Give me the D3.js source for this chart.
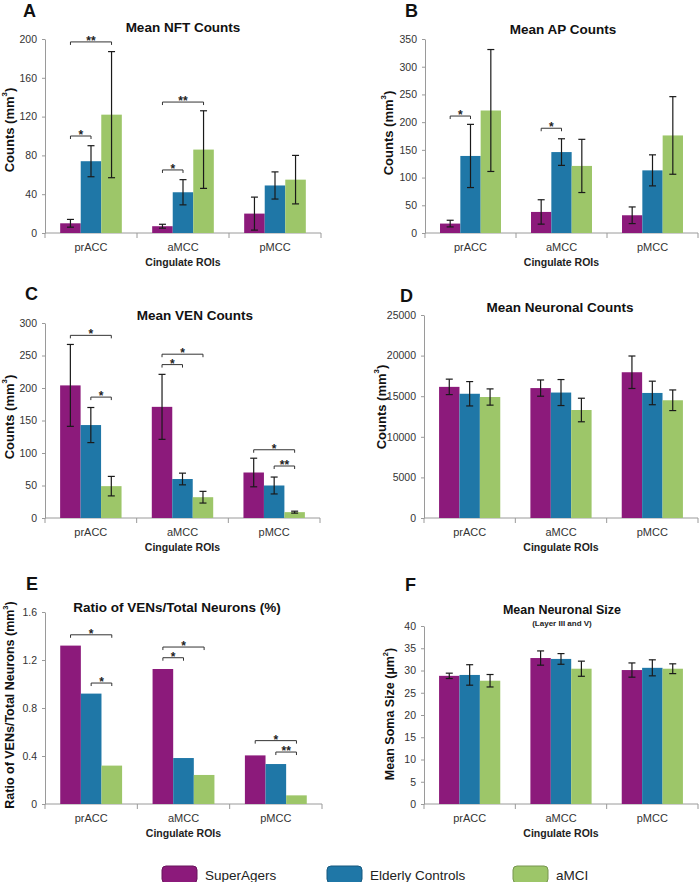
<!DOCTYPE html>
<html><head><meta charset="utf-8">
<script src="https://cdn.jsdelivr.net/npm/d3@7"></script>
<style>body{margin:0;background:#fff}svg{display:block}</style>
</head><body>
<script>
// ---------- DATA ----------
const categories = ["prACC", "aMCC", "pMCC"];
const groups = ["SuperAgers", "Elderly Controls", "aMCI"];
const colors = ["#8c1a7b", "#1f77a7", "#9dc669"];

// values indexed [group][category]
const nftMean = [[10, 7, 20], [74, 42, 49], [122, 86, 55]];
const nftErr  = [[4, 2, 17], [16, 13, 14], [65, 40, 25]];
const nftTicks = [0, 40, 80, 120, 160, 200];
const nftSig = [
  {cat: 0, from: 0, to: 1, y: 100, label: "*"},
  {cat: 0, from: 0, to: 2, y: 197, label: "**"},
  {cat: 1, from: 0, to: 1, y: 65, label: "*"},
  {cat: 1, from: 0, to: 2, y: 135, label: "**"}
];

const apMean = [[17, 38, 32], [139, 146, 113], [221, 121, 176]];
const apErr  = [[6, 22, 15], [57, 24, 28], [110, 48, 70]];
const apTicks = [0, 50, 100, 150, 200, 250, 300, 350];
const apSig = [
  {cat: 0, from: 0, to: 1, y: 211, label: "*"},
  {cat: 1, from: 0, to: 1, y: 189, label: "*"}
];

const venMean = [[204, 171, 70], [143, 60, 50], [49, 32, 9]];
const venErr  = [[63, 50, 22], [27, 9, 13], [15, 9, 1.5]];
const venTicks = [0, 50, 100, 150, 200, 250, 300];
const venSig = [
  {cat: 0, from: 0, to: 2, y: 281, label: "*"},
  {cat: 0, from: 1, to: 2, y: 186, label: "*"},
  {cat: 1, from: 0, to: 2, y: 252, label: "*"},
  {cat: 1, from: 0, to: 1, y: 236, label: "*"},
  {cat: 2, from: 0, to: 2, y: 105, label: "*"},
  {cat: 2, from: 1, to: 2, y: 80, label: "**"}
];

const neuMean = [[16150, 16000, 17950], [15300, 15450, 15400], [14900, 13300, 14500]];
const neuErr  = [[950, 1000, 2000], [1500, 1600, 1450], [1000, 1450, 1270]];
const neuTicks = [0, 5000, 10000, 15000, 20000, 25000];

const ratioMean = [[1.32, 1.125, 0.405], [0.92, 0.383, 0.333], [0.32, 0.242, 0.072]];
const ratioTicks = [0, 0.4, 0.8, 1.2, 1.6];
const ratioSig = [
  {cat: 0, from: 0, to: 2, y: 1.41, label: "*"},
  {cat: 0, from: 1, to: 2, y: 1.008, label: "*"},
  {cat: 1, from: 0, to: 2, y: 1.308, label: "*"},
  {cat: 1, from: 0, to: 1, y: 1.219, label: "*"},
  {cat: 2, from: 0, to: 2, y: 0.528, label: "*"},
  {cat: 2, from: 1, to: 2, y: 0.433, label: "**"}
];

const sizeMean = [[28.8, 32.8, 30.1], [29.0, 32.6, 30.6], [27.7, 30.4, 30.4]];
const sizeErr  = [[0.6, 1.6, 1.6], [2.3, 1.2, 1.8], [1.4, 1.7, 1.1]];
const sizeTicks = [0, 5, 10, 15, 20, 25, 30, 35, 40];

// ---------- DRAW ----------
const FONT = "'Liberation Sans', Arial, Helvetica, sans-serif";
const svg = d3.select("body").append("svg").attr("width", 700).attr("height", 882)
  .style("font-family", FONT);

const panels = [
  {letter: "A", lx: 23, ly: 17, title: "Mean NFT Counts", tx: 183, ty: 32, tsize: 13.5,
   ylab: "Counts (mm", ylx: 9, yly: 130,
   x0: 45, x1: 321, yTop: 39, yBot: 233,
   ticks: nftTicks, means: nftMean, errs: nftErr, sig: nftSig},
  {letter: "B", lx: 405, ly: 17, title: "Mean AP Counts", tx: 563, ty: 34, tsize: 13.5,
   ylab: "Counts (mm", ylx: 388, yly: 133,
   x0: 425, x1: 698, yTop: 39, yBot: 233,
   ticks: apTicks, means: apMean, errs: apErr, sig: apSig},
  {letter: "C", lx: 25, ly: 300, title: "Mean VEN Counts", tx: 195, ty: 320, tsize: 13.5,
   ylab: "Counts (mm", ylx: 9, yly: 417,
   x0: 45, x1: 320, yTop: 323, yBot: 518,
   ticks: venTicks, means: venMean, errs: venErr, sig: venSig},
  {letter: "D", lx: 400, ly: 302, title: "Mean Neuronal Counts", tx: 560, ty: 312, tsize: 13.5,
   ylab: "Counts (mm", ylx: 381, yly: 407,
   x0: 424, x1: 698, yTop: 315, yBot: 518,
   ticks: neuTicks, means: neuMean, errs: neuErr, sig: []},
  {letter: "E", lx: 26, ly: 590, title: "Ratio of VENs/Total Neurons (%)", tx: 177, ty: 612, tsize: 13.5,
   ylab: "Ratio of VENs/Total Neurons (mm", ylx: 10, yly: 705, ylsize: 12.5,
   x0: 45, x1: 322, yTop: 612, yBot: 804,
   ticks: ratioTicks, means: ratioMean, errs: null, sig: ratioSig,
   fmt: d => d === 0 ? "0" : d3.format(".1f")(d)},
  {letter: "F", lx: 405, ly: 591, title: "Mean Neuronal Size", tx: 562, ty: 614, tsize: 12.5,
   sub: "(Layer III and V)",
   ylab: "Mean Soma Size (µm", ylx: 390, yly: 714, ylsize: 12.5, sup: "2",
   x0: 424, x1: 698, yTop: 626, yBot: 804,
   ticks: sizeTicks, means: sizeMean, errs: sizeErr, sig: []}
];

panels.forEach(p => {
  const g = svg.append("g");
  const max = p.ticks[p.ticks.length - 1];
  const y = d3.scaleLinear().domain([0, max]).range([p.yBot, p.yTop]);
  const x = d3.scaleBand().domain(categories).range([p.x0, p.x1])
    .paddingInner(0.33).paddingOuter(0.165);
  const xs = d3.scaleBand().domain(d3.range(groups.length)).range([0, x.bandwidth()]);

  // letter
  g.append("text").attr("x", p.lx).attr("y", p.ly).text(p.letter)
    .attr("font-size", 18).attr("font-weight", "bold").attr("fill", "#111");
  // title
  g.append("text").attr("x", p.tx).attr("y", p.ty).attr("text-anchor", "middle")
    .attr("font-size", p.tsize).attr("font-weight", "bold").attr("fill", "#111").text(p.title);
  if (p.sub) {
    g.append("text").attr("x", p.tx).attr("y", p.ty + 12).attr("text-anchor", "middle")
      .attr("font-size", 8).attr("font-weight", "bold").attr("fill", "#222").text(p.sub);
  }
  // y label
  const yl = g.append("text").attr("transform", `translate(${p.ylx},${p.yly}) rotate(-90)`)
    .attr("text-anchor", "middle").attr("dominant-baseline", "central")
    .attr("font-size", p.ylsize || 13).attr("font-weight", "bold").attr("fill", "#111");
  yl.append("tspan").text(p.ylab);
  yl.append("tspan").attr("dy", -5).attr("font-size", (p.ylsize || 13) * 0.6).text(p.sup || "3");
  yl.append("tspan").attr("dy", 5).text(")");

  // y axis
  const ya = g.append("g").attr("transform", `translate(${p.x0},0)`)
    .call(d3.axisLeft(y).tickValues(p.ticks).tickSize(3).tickSizeOuter(0).tickPadding(5)
      .tickFormat(p.fmt || (d => d)));
  ya.select(".domain").attr("stroke", "#9a9a9a");
  ya.selectAll(".tick line").attr("stroke", "#9a9a9a");
  ya.selectAll(".tick text").attr("font-size", 10.5).attr("fill", "#333").attr("font-family", FONT);

  // x axis
  g.append("line").attr("x1", p.x0).attr("x2", p.x1).attr("y1", p.yBot).attr("y2", p.yBot)
    .attr("stroke", "#9a9a9a");
  g.selectAll(".xb").data(d3.range(categories.length + 1)).join("line")
    .attr("x1", i => p.x0 + i * x.step()).attr("x2", i => p.x0 + i * x.step())
    .attr("y1", p.yBot).attr("y2", p.yBot + 5).attr("stroke", "#9a9a9a");
  g.selectAll(".xl").data(categories).join("text")
    .attr("x", c => x(c) + x.bandwidth() / 2).attr("y", p.yBot + 18)
    .attr("text-anchor", "middle").attr("font-size", 11).attr("fill", "#333").text(c => c);
  g.append("text").attr("x", (p.x0 + p.x1) / 2).attr("y", p.yBot + 33).attr("text-anchor", "middle")
    .attr("font-size", 10.5).attr("font-weight", "bold").attr("fill", "#222").text("Cingulate ROIs");

  // bars
  groups.forEach((grp, gi) => {
    categories.forEach((c, ci) => {
      const v = p.means[gi][ci];
      const bx = x(c) + xs(gi);
      g.append("rect").attr("x", bx).attr("y", y(v)).attr("width", xs.bandwidth())
        .attr("height", p.yBot - y(v)).attr("fill", colors[gi]);
    });
  });
  // error bars
  if (p.errs) {
    groups.forEach((grp, gi) => {
      categories.forEach((c, ci) => {
        const v = p.means[gi][ci], e = p.errs[gi][ci];
        const cx = x(c) + xs(gi) + xs.bandwidth() / 2;
        const eg = g.append("g").attr("stroke", "#1a1a1a").attr("stroke-width", 1.2);
        eg.append("line").attr("x1", cx).attr("x2", cx).attr("y1", y(v - e)).attr("y2", y(v + e));
        [v - e, v + e].forEach(t => eg.append("line").attr("x1", cx - 3.5).attr("x2", cx + 3.5)
          .attr("y1", y(t)).attr("y2", y(t)));
      });
    });
  }
  // significance brackets
  p.sig.forEach(s => {
    const c = categories[s.cat];
    const xa = x(c) + xs(s.from) + xs.bandwidth() / 2;
    const xb = x(c) + xs(s.to) + xs.bandwidth() / 2;
    const yy = y(s.y);
    g.append("path").attr("d", `M${xa},${yy + 3}V${yy}H${xb}V${yy + 3}`)
      .attr("fill", "none").attr("stroke", "#333").attr("stroke-width", 1);
    g.append("text").attr("x", (xa + xb) / 2).attr("y", yy + 3).attr("text-anchor", "middle")
      .attr("font-size", 12).attr("font-weight", "bold").attr("fill", "#222").text(s.label);
  });
});

// legend
const legX = [162, 327, 513];
groups.forEach((grp, i) => {
  svg.append("rect").attr("x", legX[i]).attr("y", 866).attr("width", 35).attr("height", 17)
    .attr("rx", 4).attr("fill", colors[i]).attr("stroke", d3.color(colors[i]).darker(0.8))
    .attr("stroke-width", 1);
  svg.append("text").attr("x", legX[i] + 43).attr("y", 880).attr("font-size", 13.5)
    .attr("fill", "#222").text(grp);
});
</script>
</body></html>
